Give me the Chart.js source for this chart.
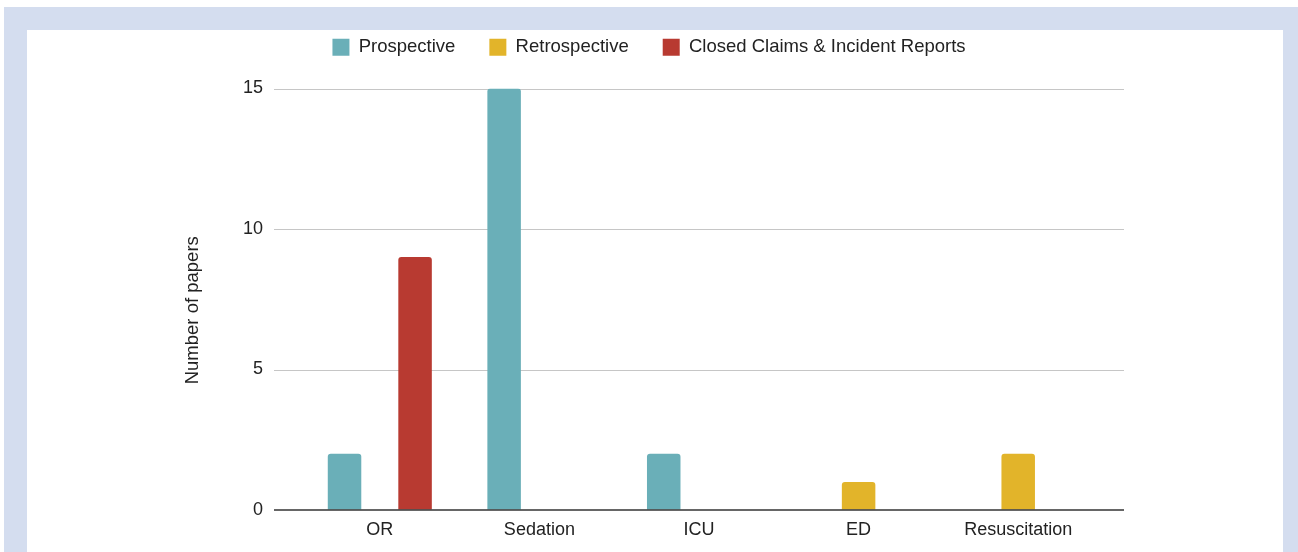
<!DOCTYPE html>
<html>
<head>
<meta charset="utf-8">
<script src="https://cdn.jsdelivr.net/npm/chart.js@4.4.1/dist/chart.umd.min.js"></script>
<style>
  html, body { margin: 0; padding: 0; background: #ffffff; width: 1298px; height: 552px; overflow: hidden; }
  #frame { position: absolute; left: 4px; top: 7px; right: 0; bottom: 0; background: #d4ddef; }
  #panel { position: absolute; left: 27px; top: 30px; right: 15px; bottom: 0; background: #ffffff; }
  #wrap { position: absolute; left: 0; top: 0; width: 1298px; height: 552px; }
</style>
</head>
<body>
<div id="frame"></div>
<div id="panel"></div>
<div id="wrap"><canvas id="c" width="1298" height="552"></canvas></div>
<script>
const categories = ['OR', 'Sedation', 'ICU', 'ED', 'Resuscitation'];
const prospective = [2, 15, 2, 0, 0];
const retrospective = [0, 0, 0, 1, 2];
const closedClaims = [9, 0, 0, 0, 0];
const yTicks = [0, 5, 10, 15];
const seriesNames = ['Prospective', 'Retrospective', 'Closed Claims & Incident Reports'];
const seriesColors = ['#6aafb8', '#e2b42a', '#b83a31'];

const FONT = "'Liberation Sans', Arial, Helvetica, sans-serif";

const legendSpacer = {
  id: 'legendSpacer',
  beforeInit(chart) {
    const lg = chart.legend;
    if (!lg) return;
    const fit = lg.fit;
    lg.fit = function () { fit.call(this); this.height += 22; };
  }
};

const titleShift = {
  id: 'titleShift',
  afterLayout(chart) {
    const s = chart.scales.y;
    if (!s || s._titlePatched) return;
    const orig = s.drawTitle;
    s.drawTitle = function () {
      this.ctx.save();
      this.ctx.translate(0, 11);
      orig.call(this);
      this.ctx.restore();
    };
    s._titlePatched = true;
  }
};

const extendedGrid = {
  id: 'extendedGrid',
  beforeDatasetsDraw(chart) {
    const { ctx, chartArea, scales: { y } } = chart;
    const ext = 26;
    ctx.save();
    y.ticks.forEach(t => {
      if (t.value === 0) return;
      const py = Math.round(y.getPixelForValue(t.value)) + 0.5;
      ctx.beginPath();
      ctx.strokeStyle = '#c6c6c6';
      ctx.lineWidth = 1;
      ctx.moveTo(chartArea.left - ext, py);
      ctx.lineTo(chartArea.right + ext, py);
      ctx.stroke();
    });
    ctx.restore();
  },
  afterDatasetsDraw(chart) {
    const { ctx, chartArea, scales: { y } } = chart;
    const ext = 26;
    const py = Math.round(y.getPixelForValue(0));
    ctx.save();
    ctx.beginPath();
    ctx.strokeStyle = '#333333';
    ctx.lineWidth = 1.5;
    ctx.moveTo(chartArea.left - ext, py);
    ctx.lineTo(chartArea.right + ext, py);
    ctx.stroke();
    ctx.restore();
  }
};

const dataArrays = [prospective, retrospective, closedClaims];

new Chart(document.getElementById('c'), {
  type: 'bar',
  data: {
    labels: categories,
    datasets: dataArrays.map((d, i) => ({
      label: seriesNames[i],
      data: d,
      backgroundColor: seriesColors[i],
      borderRadius: { topLeft: 3, topRight: 3, bottomLeft: 0, bottomRight: 0 },
      borderSkipped: 'start',
      barPercentage: 0.95,
      categoryPercentage: 0.663
    }))
  },
  options: {
    responsive: false,
    animation: false,
    layout: { padding: { left: 0, right: 0, top: 4, bottom: 0 } },
    plugins: {
      legend: {
        display: true,
        position: 'top',
        labels: {
          font: { family: FONT, size: 18.5 },
          color: '#222222',
          boxWidth: 17,
          boxHeight: 17,
          padding: 34
        }
      },
      tooltip: { enabled: false }
    },
    scales: {
      x: {
        offset: true,
        grid: { display: false, drawTicks: false },
        border: { display: false },
        ticks: { font: { family: FONT, size: 18 }, color: '#222222', padding: 9 },
        afterFit(scale) { scale.height = 42; }
      },
      y: {
        min: 0,
        max: 15,
        afterBuildTicks(scale) { scale.ticks = yTicks.map(v => ({ value: v })); },
        grid: { display: true, color: 'rgba(0,0,0,0)', drawOnChartArea: false, drawTicks: true, tickLength: 37 },
        border: { display: false },
        ticks: { font: { family: FONT, size: 18 }, color: '#222222', padding: 0 },
        title: {
          display: true,
          text: 'Number of papers',
          font: { family: FONT, size: 18.5 },
          color: '#222222',
          padding: { top: 182, bottom: 0 }
        },
        afterFit(scale) { scale.width = 300; }
      },
      ySpace: {
        position: 'right',
        display: true,
        grid: { display: false, drawTicks: false },
        border: { display: false },
        ticks: { display: false },
        afterFit(scale) { scale.width = 200; }
      }
    }
  },
  plugins: [legendSpacer, titleShift, extendedGrid]
});
</script>
</body>
</html>
